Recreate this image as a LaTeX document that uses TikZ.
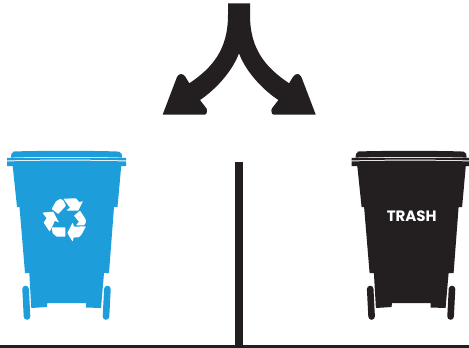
\documentclass[tikz,border=0pt]{standalone}
\usepackage{fontspec}
\newfontfamily\trashfont{Poppins}
\definecolor{binblue}{HTML}{1D9EDB}
\definecolor{binblack}{HTML}{231F20}
\tikzset{
  binbody/.pic={
    \fill (12,151.6) .. controls (30,150.6) and (100,150.6) .. (119,151.6)
       .. controls (121,152) and (122,154) .. (122,157.6)
       .. controls (90,156.6) and (40,156.6) .. (11,157.6)
       .. controls (11,154) and (12,152) .. (14,151.6) -- cycle;
    \fill (7,158) .. controls (40,157.8) and (90,157.8) .. (126,158) -- (126,160.5)
       .. controls (90,159.3) and (40,159.3) .. (7,160.5) -- cycle;
    \fill (7,161.5) .. controls (40,160.3) and (90,160.3) .. (126,161.5) -- (126,166) -- (121.2,166)
       -- (117.5,207) -- (114,207) -- (109,273) -- (104,273) -- (101,308) -- (86,307.5) -- (86,303)
       -- (47.3,303) -- (47,307) -- (31.3,308) -- (29.3,273) -- (25,273) -- (19.5,207) -- (17,207)
       -- (12.7,166) -- (7,166) -- cycle;
    \draw[line width=6.6pt,line cap=round] (25.6,289) -- (27,316.5);
    \draw[line width=6.6pt,line cap=round] (107.4,289) -- (106,316.5);
  },
  groundbar/.style={fill=binblack},
  sym/.style={fill=white,rounded corners=0.6pt}
}
\begin{document}
\begin{tikzpicture}[x=1pt,y=-1pt]
\useasboundingbox (0,0) rectangle (469,348);
\fill[white] (0,0) rectangle (469,348);
% ground and divider
\fill[groundbar] (0,345) rectangle (469,348);
\fill[groundbar] (235,162) rectangle (243,346);
% splitting arrow
\fill[binblack] (228,3.3) -- (228,15) .. controls (228,50) and (212,68) .. (189.3,83.3)
  -- (185.5,77) .. controls (183,73) and (179,73) .. (177,77)
  -- (162.7,114.5) -- (205,114.5) .. controls (207,114.5) and (207.5,110) .. (206.5,108.5) -- (200,100)
  .. controls (215,90) and (232,72) .. (239,53.3)
  .. controls (246,72) and (263,90) .. (278.4,100)
  -- (271.9,108.5) .. controls (270.9,110) and (271.4,114.5) .. (273.4,114.5)
  -- (315.7,114.5) -- (301.4,77) .. controls (299.4,73) and (295.4,73) .. (292.9,77)
  -- (289.1,83.3) .. controls (266.4,68) and (250,50) .. (250,15) -- (250,3.3) -- cycle;
% blue bin
\begin{scope}[binblue]
  \fill[binblue] (0,0) pic[binblue] {binbody};
\end{scope}
% recycling symbol
\begin{scope}[shift={(0,140)},x=0.3333pt,y=-0.3333pt]
  \fill[sym] (190,176) -- (228,175) -- (238,187) -- (249,183) -- (235,212) -- (199,212) -- (210,203) -- cycle;
  \fill[sym] (155,207) -- (168,184) -- (180,177) -- (189,180) -- (198,197) -- (175,222) -- cycle;
  \fill[sym] (127,218) -- (160,215) -- (177,248) -- (165,242) -- (149,275) -- (131,248) -- (140,234) -- cycle;
  \fill[sym] (155,262) -- (196,262) -- (196,290) -- (170,290) -- (158,280) -- cycle;
  \fill[sym] (258,259) -- (244,285) -- (236,292) -- (221,292) -- (218,305) -- (202,279) -- (218,248) -- (222,260) -- cycle;
  \fill[sym] (222,227) -- (240,212) -- (257,238) -- (258,247) -- (252,256) -- (228,256) -- (237,245) -- cycle;
\end{scope}
% black bin
\begin{scope}[xshift=344.6pt]
  \fill[binblack] (0,0) pic[binblack] {binbody};
\end{scope}
\node[text=white,inner sep=0pt,font=\trashfont\fontsize{15}{15}\selectfont\bfseries] (trash) at (411.7,216) {TRASH};
\end{tikzpicture}
\end{document}
